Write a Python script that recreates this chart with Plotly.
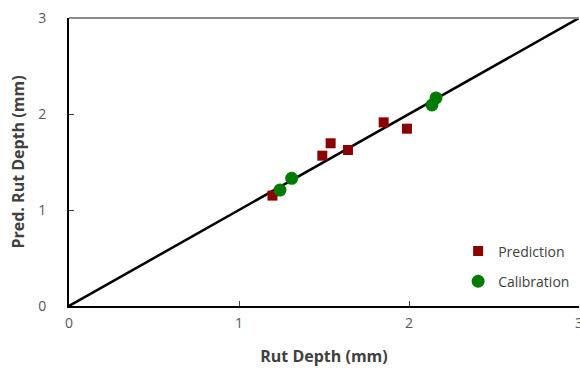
import plotly.graph_objects as go

pred_x = [1.197, 1.49, 1.539, 1.641, 1.851, 1.988]
pred_y = [1.15, 1.566, 1.695, 1.625, 1.913, 1.847]
cal_x = [1.241, 1.31, 2.135, 2.159]
cal_y = [1.208, 1.33, 2.094, 2.167]
line_x = [0, 3]
line_y = [0, 3]
ticks = [0, 1, 2, 3]

fig = go.Figure()
fig.add_trace(go.Scatter(x=line_x, y=line_y, mode="lines",
                         line=dict(color="black", width=2.5), showlegend=False, hoverinfo="skip"))
fig.add_trace(go.Scatter(x=pred_x, y=pred_y, mode="markers", name="Prediction", legendgroup="p",
                         marker=dict(symbol="square", size=10, color="#8B0000")))
fig.add_trace(go.Scatter(x=cal_x, y=cal_y, mode="markers", name="Calibration", legendgroup="c",
                         marker=dict(symbol="circle", size=13, color="#007A00")))

tickfont = dict(family="Open Sans, Liberation Sans, sans-serif", size=14, color="#595959")
titlefont = dict(family="Open Sans, Liberation Sans, sans-serif", size=16, color="#404040")

fig.update_layout(
    width=580, height=377,
    margin=dict(l=69, r=1, t=18, b=71, autoexpand=False),
    paper_bgcolor="white", plot_bgcolor="white",
    xaxis=dict(range=[0, 3], tickvals=ticks, ticks="inside", ticklen=5, tickcolor="#404040",
               showline=True, linecolor="black", linewidth=2, showgrid=False, zeroline=False,
               tickfont=tickfont, automargin=False, ticklabelstandoff=3, ticklabeloverflow="allow",
               title=dict(text="<b>Rut Depth (mm)</b>", font=titlefont, standoff=20)),
    yaxis=dict(range=[0, 3], tickvals=ticks, ticks="inside", ticklen=5, tickcolor="#404040",
               showline=True, linecolor="black", linewidth=2, showgrid=False, zeroline=False,
               tickfont=tickfont, automargin=False, ticklabelstandoff=18,
               title=dict(text="<b>Pred. Rut Depth (mm)</b>", font=titlefont, standoff=10)),
    legend=dict(x=0.763, y=0.245, xanchor="left", yanchor="top", bgcolor="rgba(0,0,0,0)",
                font=dict(family="Open Sans, Liberation Sans, sans-serif", size=14, color="#404040"),
                itemwidth=30, traceorder="grouped", tracegroupgap=9),
    shapes=[dict(type="line", xref="paper", yref="paper", x0=0, x1=1, y0=1, y1=1,
                 line=dict(color="#8c8c8c", width=2))],
)

fig.write_html("out.html")
